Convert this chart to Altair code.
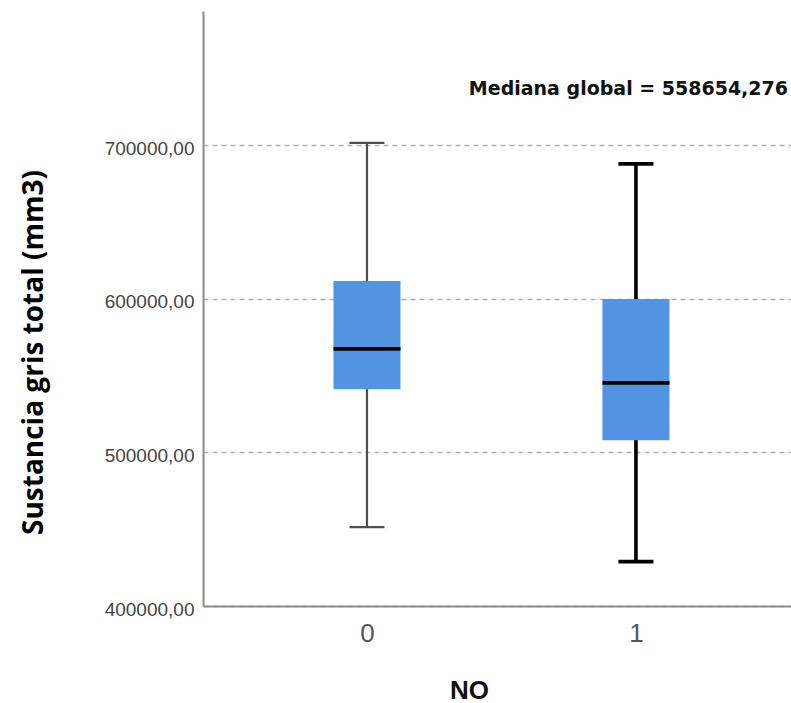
import altair as alt
import pandas as pd

# ---- data ----
groups = ["0", "1"]
whisker_low = [451400, 428900]
q1 = [541200, 508000]
median = [567500, 545400]
q3 = [611700, 600000]
whisker_high = [701700, 688000]

y_ticks = [400000, 500000, 600000, 700000]
y_domain = [400000, 787600]
global_median_label = "Mediana global = 558654,276"

df = pd.DataFrame({
    "grupo": groups,
    "low": whisker_low,
    "q1": q1,
    "med": median,
    "q3": q3,
    "high": whisker_high,
})

# styles per group (not data)
whisker_style = {"0": ("#4f4f4f", 2.2), "1": ("#000000", 3.6)}
BOX_COLOR = "#5294e2"

x_enc = alt.X(
    "grupo:O",
    scale=alt.Scale(type="point", padding=0.593, align=0.514),
    axis=alt.Axis(
        title="NO",
        titleFont="Liberation Sans",
        titleFontSize=26,
        titleFontWeight="bold",
        titleColor="#111111",
        titleX=266,
        titleY=92,
        titleBaseline="alphabetic",
        labelFont="Liberation Sans",
        labelFontSize=26,
        labelColor="#555555",
        labelAngle=0,
        labelPadding=14,
        ticks=False,
        domainColor="#8a8a8a",
        domainWidth=2,
        grid=False,
    ),
)

y_scale = alt.Scale(domain=y_domain, nice=False, zero=False)
y_axis = alt.Axis(
    values=y_ticks,
    labelExpr="replace(format(datum.value, '.2f'), '.', ',')",
    labelFont="Liberation Sans",
    labelFontSize=19,
    labelColor="#444444",
    labelPadding=9,
    labelOffset=3,
    ticks=False,
    domainColor="#8a8a8a",
    domainWidth=2,
    grid=True,
    gridDash=[5, 4],
    gridColor="#b0b0b0",
    gridWidth=1.5,
    title="Sustancia gris total (mm3)",
    titleFont="Open Sans",
    titleFontWeight="bold",
    titleFontSize=28,
    titleColor="#000000",
    titleX=-155,
    titleY=341,
)

base = alt.Chart(df).encode(x=x_enc)

layers = []
for g in groups:
    col, w = whisker_style[g]
    sub = base.transform_filter(alt.datum.grupo == g)
    layers.append(
        sub.mark_rule(color=col, strokeWidth=w).encode(
            y=alt.Y("low:Q", scale=y_scale, axis=y_axis), y2="high:Q"
        )
    )
    layers.append(
        sub.mark_tick(color=col, size=35, thickness=w, orient="horizontal", opacity=1).encode(
            y=alt.Y("low:Q")
        )
    )
    layers.append(
        sub.mark_tick(color=col, size=35, thickness=w, orient="horizontal", opacity=1).encode(
            y=alt.Y("high:Q")
        )
    )

box = base.mark_bar(size=67, color=BOX_COLOR, opacity=1).encode(y=alt.Y("q1:Q"), y2="q3:Q")
med = base.mark_tick(size=67, thickness=3.8, color="#000000", orient="horizontal", opacity=1).encode(
    y=alt.Y("med:Q")
)

chart = (
    alt.layer(*layers, box, med)
    .properties(
        width=588,
        height=595,
        background="white",
        autosize=alt.AutoSizeParams(type="none"),
        padding={"left": 203, "top": 11, "right": 0, "bottom": 97},
        title=alt.TitleParams(
            text=global_median_label,
            anchor="end",
            frame="group",
            font="DejaVu Sans",
            fontSize=19,
            fontWeight="bold",
            color="#111111",
            baseline="alphabetic",
            offset=0,
            dy=103,
            dx=-3,
        ),
    )
    .configure_view(strokeWidth=0, stroke="transparent")
)

chart.save("out.html", embed_options={"renderer": "svg", "actions": False})
